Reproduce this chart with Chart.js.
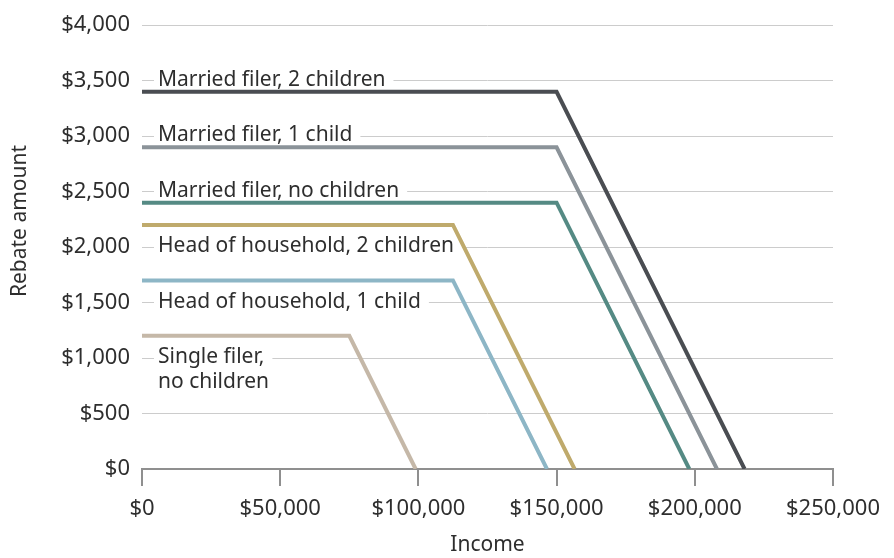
<!DOCTYPE html>
<html>
<head>
<meta charset="utf-8">
<script src="https://cdn.jsdelivr.net/npm/chart.js@4/dist/chart.umd.min.js"></script>
<style>
  html, body { margin: 0; padding: 0; background: #fff; }
  #wrap { width: 894px; height: 558px; }
</style>
</head>
<body>
<div id="wrap"><canvas id="rebateChart" width="894" height="558"></canvas></div>
<script>
// Series names, in drawing order (bottom label first)
const seriesNames = [
    "Single filer, no children",
    "Head of household, 1 child",
    "Head of household, 2 children",
    "Married filer, no children",
    "Married filer, 1 child",
    "Married filer, 2 children"
];

// Income breakpoints (x) and rebate amounts (y) for each series
const incomeSingle = [0, 75000, 99000];
const rebateSingle = [1200, 1200, 0];

const incomeHoh1 = [0, 112500, 146500];
const rebateHoh1 = [1700, 1700, 0];

const incomeHoh2 = [0, 112500, 156500];
const rebateHoh2 = [2200, 2200, 0];

const incomeMarried0 = [0, 150000, 198000];
const rebateMarried0 = [2400, 2400, 0];

const incomeMarried1 = [0, 150000, 208000];
const rebateMarried1 = [2900, 2900, 0];

const incomeMarried2 = [0, 150000, 218000];
const rebateMarried2 = [3400, 3400, 0];

// Gridline value each series label sits on
const labelValues = [1000, 1500, 2000, 2500, 3000, 3500];
const labelLines = [
    ["Single filer,", "no children"],
    ["Head of household, 1 child"],
    ["Head of household, 2 children"],
    ["Married filer, no children"],
    ["Married filer, 1 child"],
    ["Married filer, 2 children"]
];

const seriesColors = ["#c5b8a8", "#8db6c6", "#bfaa6c", "#558a84", "#8b9399", "#4a4d52"];

const FONT = "'Noto Sans', 'Open Sans', sans-serif";
const TEXT = "#2e2e2e";

function toPoints(xs, ys) {
    return xs.map((x, i) => ({ x: x, y: ys[i] }));
}

const seriesX = [incomeSingle, incomeHoh1, incomeHoh2, incomeMarried0, incomeMarried1, incomeMarried2];
const seriesY = [rebateSingle, rebateHoh1, rebateHoh2, rebateMarried0, rebateMarried1, rebateMarried2];

// Labels sitting on the gridlines with a white backing, plus the y title
const gridLabels = {
    id: "gridLabels",
    beforeDatasetsDraw(chart) {
        const { ctx, chartArea, scales } = chart;
        ctx.save();
        ctx.font = "21px " + FONT;
        ctx.textBaseline = "middle";
        labelLines.forEach((lines, i) => {
            const y0 = scales.y.getPixelForValue(labelValues[i]);
            const x0 = chartArea.left + 16;
            lines.forEach((txt, j) => {
                const y = y0 + j * 25;
                const w = ctx.measureText(txt).width;
                ctx.fillStyle = "#ffffff";
                ctx.fillRect(x0 - 4, y - 3, w + 12, 6);
                ctx.fillStyle = TEXT;
                ctx.fillText(txt, x0, y - 1);
            });
        });
        ctx.restore();
    },
    afterDraw(chart) {
        const { ctx } = chart;
        ctx.save();
        ctx.font = "21px " + FONT;
        ctx.fillStyle = TEXT;
        ctx.textAlign = "center";
        ctx.textBaseline = "middle";
        ctx.translate(20, 221);
        ctx.rotate(-Math.PI / 2);
        ctx.fillText("Rebate amount", 0, 0);
        ctx.restore();
    }
};

new Chart(document.getElementById("rebateChart").getContext("2d"), {
    type: "line",
    data: {
        datasets: seriesNames.map((name, i) => ({
            label: name,
            data: toPoints(seriesX[i], seriesY[i]),
            borderColor: seriesColors[i],
            borderWidth: 4,
            pointRadius: 0,
            tension: 0,
            fill: false,
            borderJoinStyle: "miter"
        }))
    },
    options: {
        responsive: false,
        animation: false,
        layout: { padding: { top: 24, right: 61, left: 0, bottom: 0 } },
        plugins: {
            legend: { display: false },
            tooltip: { enabled: false }
        },
        scales: {
            x: {
                type: "linear",
                min: 0,
                max: 250000,
                ticks: {
                    stepSize: 50000,
                    color: TEXT,
                    font: { family: FONT, size: 22 },
                    padding: 10,
                    maxRotation: 0,
                    callback: (v) => "$" + v.toLocaleString("en-US")
                },
                grid: { drawOnChartArea: false, drawTicks: true, tickLength: 17, color: "#8f8f8f", lineWidth: 2 },
                border: { display: true, color: "#8f8f8f", width: 2 },
                title: {
                    display: true,
                    text: "Income",
                    color: TEXT,
                    font: { family: FONT, size: 21 },
                    padding: { top: 0, bottom: 0 }
                },
                afterFit: (s) => { s.height = 558 - 469; }
            },
            y: {
                min: 0,
                max: 4000,
                ticks: {
                    stepSize: 500,
                    color: TEXT,
                    font: { family: FONT, size: 22 },
                    padding: 12,
                    callback: (v) => "$" + v.toLocaleString("en-US")
                },
                grid: { color: "#cccccc", lineWidth: 1, drawTicks: false },
                border: { display: false },
                afterFit: (s) => { s.width = 142; }
            }
        }
    },
    plugins: [gridLabels]
});
</script>
</body>
</html>
